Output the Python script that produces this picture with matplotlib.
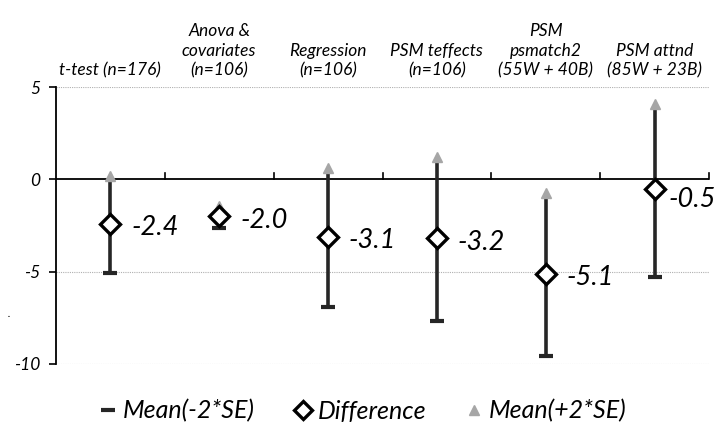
import matplotlib
matplotlib.use("Agg")
import matplotlib.pyplot as plt
from matplotlib.lines import Line2D

plt.rcParams["font.family"] = ["Lato", "DejaVu Sans"]
plt.rcParams["font.style"] = "italic"

categories = ["t-test (n=176)", "Anova &\ncovariates\n(n=106)", "Regression\n(n=106)",
              "PSM teffects\n(n=106)", "PSM\npsmatch2\n(55W + 40B)", "PSM attnd\n(85W + 23B)"]
low = [-5.05, -2.65, -6.9, -7.65, -9.55, -5.3]
high = [0.2, -1.45, 0.6, 1.2, -0.75, 4.1]
diff = [-2.4, -2.0, -3.1, -3.2, -5.1, -0.5]
diff_labels = ["-2.4", "-2.0", "-3.1", "-3.2", "-5.1", "-0.5"]
yticks = [5, 0, -5, -10]

DARK = "#262626"
GREY = "#a6a6a6"

fig = plt.figure(figsize=(7.15, 4.25), dpi=100)
ax = fig.add_axes([56 / 715, 61 / 425, 653 / 715, 277 / 425])
x = list(range(len(categories)))

ax.set_xlim(-0.5, len(categories) - 0.5)
ax.set_ylim(-10, 5)

# gridlines
for yv in yticks:
    if yv != 0:
        ax.axhline(yv, color="#b0b0b0", linestyle=(0, (1, 1)), linewidth=0.8, zorder=0)
ax.axhline(0, color="black", linewidth=1.3, zorder=1)

# high-low lines
ax.vlines(x, low, high, color=DARK, linewidth=2.6, zorder=2)
ax.plot(x, low, linestyle="none", marker="_", markersize=10, markeredgewidth=3,
        color=DARK, zorder=3)
ax.plot(x, high, linestyle="none", marker="^", markersize=7, color=GREY,
        markeredgecolor=GREY, zorder=3)
ax.plot(x, diff, linestyle="none", marker="D", markersize=10, markerfacecolor="white",
        markeredgecolor="black", markeredgewidth=2.4, zorder=4)

# value labels; the last one sits lower/closer, as in the original
for i, (xi, yi, lab) in enumerate(zip(x, diff, diff_labels)):
    off = (10, -8) if i == len(x) - 1 else (15, -3)
    ax.annotate(lab, (xi, yi), xytext=off, textcoords="offset points",
                ha="left", va="center", fontsize=19.5, color="black", zorder=5,
                annotation_clip=False)

# category labels above plot
for xi, cat in zip(x, categories):
    ax.text(xi, 5.45, cat, ha="center", va="bottom", fontsize=12.5,
            linespacing=1.3, transform=ax.transData)

# x-axis ticks on the zero line at category boundaries
for b in [i + 0.5 for i in range(len(categories))]:
    ax.plot([b, b], [0, 0.35], color="black", linewidth=1.2, clip_on=False, zorder=1)

ax.set_xticks([])
ax.set_yticks(yticks)
ax.set_yticklabels([str(v) for v in yticks], fontsize=12.5)
ax.tick_params(axis="y", length=5, width=1.2, pad=6)
for s in ["top", "right", "bottom"]:
    ax.spines[s].set_visible(False)
ax.spines["left"].set_linewidth(1.3)

fig.text(8 / 715, 1 - 317 / 425, ".", fontsize=8)

handles = [
    Line2D([], [], linestyle="none", marker="_", markersize=10, markeredgewidth=3, color=DARK),
    Line2D([], [], linestyle="none", marker="D", markersize=9, markerfacecolor="white",
           markeredgecolor="black", markeredgewidth=2.4),
    Line2D([], [], linestyle="none", marker="^", markersize=7, color=GREY),
]
fig.legend(handles, ["Mean(-2*SE)", "Difference", "Mean(+2*SE)"], loc="center",
           bbox_to_anchor=(0.505, 1 - 411 / 425), ncol=3, frameon=False, fontsize=18,
           handletextpad=0.1, columnspacing=1.4, handlelength=1.0)

fig.savefig("out.png", dpi=100)
